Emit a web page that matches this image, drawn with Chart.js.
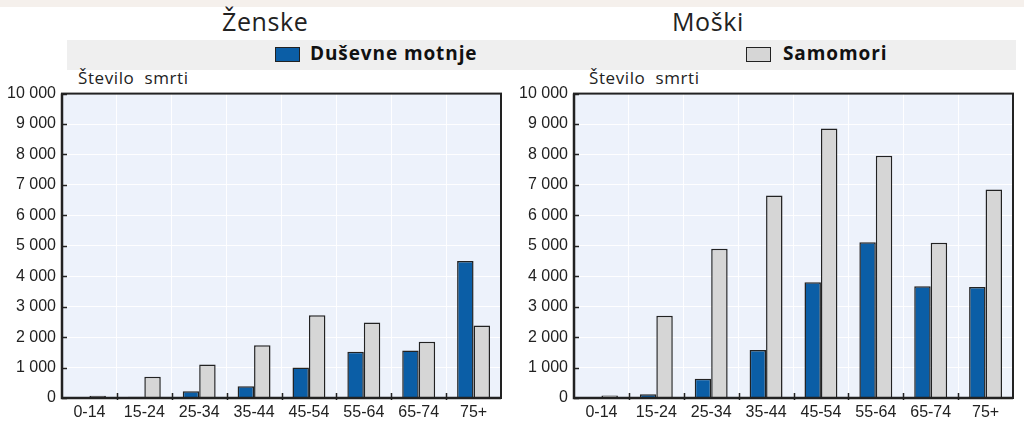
<!DOCTYPE html>
<html>
<head>
<meta charset="utf-8">
<script src="https://cdn.jsdelivr.net/npm/chart.js@4.4.1/dist/chart.umd.min.js"></script>
<style>
  html, body { margin: 0; padding: 0; background: #fff; }
  #page { position: relative; width: 1024px; height: 424px; overflow: hidden; background: #fff; }
  .strip { position: absolute; left: 0; top: 0; width: 1024px; height: 7px; background: #f5f0ec; }
  .title { position: absolute; top: 4px; font: 400 25px "Open Sans", sans-serif; color: #222; letter-spacing: 0.6px; }
  .band { position: absolute; left: 67px; top: 40px; width: 949px; height: 30px; background: #efefef; }
  .lg { position: absolute; top: 40px; font: 700 19px "Open Sans", sans-serif; color: #111; letter-spacing: 0.9px; }
  .sw { position: absolute; top: 47px; width: 25px; height: 15px; border: 1.5px solid #222; box-sizing: border-box; }
  .unit { position: absolute; top: 66px; font: 400 17px "Open Sans", sans-serif; color: #222; white-space: pre; letter-spacing: 0.6px; }
  canvas { position: absolute; }
</style>
</head>
<body>
<div id="page">
  <div class="strip"></div>
  <div class="title" style="left:222px">Ženske</div>
  <div class="title" style="left:672px">Moški</div>
  <div class="band"></div>
  <div class="sw" style="left:275px;background:#0b5ea6"></div>
  <div class="lg" style="left:310px">Duševne motnje</div>
  <div class="sw" style="left:746px;background:#d6d6d6"></div>
  <div class="lg" style="left:783px">Samomori</div>
  <div class="unit" style="left:78px">Število  smrti</div>
  <div class="unit" style="left:589px">Število  smrti</div>
  <div style="position:absolute;left:0;top:78px;width:512px;height:346px"><canvas id="c1"></canvas></div>
  <div style="position:absolute;left:512px;top:78px;width:512px;height:346px"><canvas id="c2"></canvas></div>
</div>
<script>
const ageGroups = ['0-14', '15-24', '25-34', '35-44', '45-54', '55-64', '65-74', '75+'];
const seriesNames = ['Duševne motnje', 'Samomori'];

// Ženske
const womenMental = [10, 40, 220, 390, 1000, 1520, 1560, 4500];
const womenSuicide = [70, 700, 1100, 1730, 2720, 2480, 1850, 2380];
// Moški
const menMental = [10, 120, 630, 1580, 3800, 5120, 3670, 3650];
const menSuicide = [80, 2700, 4900, 6650, 8850, 7960, 5100, 6850];

const yTicks = [0, 1000, 2000, 3000, 4000, 5000, 6000, 7000, 8000, 9000, 10000];

const BLUE = '#0b5ea6';
const GREY = '#d6d6d6';
const INK = '#222';

function fmt(v) {
  return String(v).replace(/\B(?=(\d{3})+(?!\d))/g, ' ');
}

const plotDecor = {
  id: 'plotDecor',
  beforeDraw(chart) {
    const { ctx, chartArea: a } = chart;
    ctx.save();
    ctx.fillStyle = '#edf2fb';
    ctx.fillRect(a.left, a.top, a.right - a.left, a.bottom - a.top);
    ctx.restore();
  },
  afterDatasetsDraw(chart) {
    const { ctx, chartArea: a, scales } = chart;
    ctx.save();
    ctx.strokeStyle = INK;
    ctx.lineWidth = 1.5;
    ctx.beginPath();
    yTicks.forEach(v => {
      const y = Math.round(scales.y.getPixelForValue(v)) + 0.5;
      ctx.moveTo(a.left, y);
      ctx.lineTo(a.left + 5, y);
    });
    for (let i = 1; i < ageGroups.length; i++) {
      const x = Math.round((scales.x.getPixelForValue(i - 1) + scales.x.getPixelForValue(i)) / 2) + 0.5;
      ctx.moveTo(x, a.bottom + 2);
      ctx.lineTo(x, a.bottom - 5);
    }
    ctx.stroke();
    ctx.lineWidth = 2;
    ctx.strokeRect(a.left, a.top, a.right - a.left, a.bottom - a.top);
    ctx.lineWidth = 2.5;
    ctx.beginPath();
    ctx.moveTo(a.left, a.top);
    ctx.lineTo(a.left, a.bottom);
    ctx.lineTo(a.right, a.bottom);
    ctx.stroke();
    ctx.restore();
  }
};

function makeChart(id, mental, suicide, padTop) {
  return new Chart(document.getElementById(id), {
    type: 'bar',
    data: {
      labels: ageGroups,
      datasets: [
        { label: seriesNames[0], data: mental, backgroundColor: BLUE, borderColor: INK, borderWidth: 1.5 },
        { label: seriesNames[1], data: suicide, backgroundColor: GREY, borderColor: INK, borderWidth: 1.5 }
      ]
    },
    options: {
      responsive: true,
      maintainAspectRatio: false,
      animation: false,
      layout: { padding: { top: padTop, right: 11, left: 0, bottom: 0 } },
      datasets: { bar: { categoryPercentage: 0.6, barPercentage: 1 } },
      plugins: { legend: { display: false }, tooltip: { enabled: false } },
      scales: {
        x: {
          offset: true,
          grid: { offset: true, color: 'rgba(255,255,255,0.9)', drawTicks: false },
          border: { display: false },
          ticks: { color: INK, padding: 5, font: { family: 'Liberation Sans', size: 16 } },
          afterFit(s) { s.height = 26; }
        },
        y: {
          min: 0,
          max: 10000,
          afterBuildTicks(s) { s.ticks = yTicks.map(v => ({ value: v })); },
          grid: { color: 'rgba(255,255,255,0.9)', drawTicks: false },
          border: { display: false },
          ticks: { color: INK, padding: 6, font: { family: 'Liberation Sans', size: 16 }, callback: v => fmt(v) },
          afterFit(s) { s.width = 62; }
        }
      }
    },
    plugins: [plotDecor]
  });
}

makeChart('c1', womenMental, womenSuicide, 12);
makeChart('c2', menMental, menSuicide, 13);
</script>
</body>
</html>
